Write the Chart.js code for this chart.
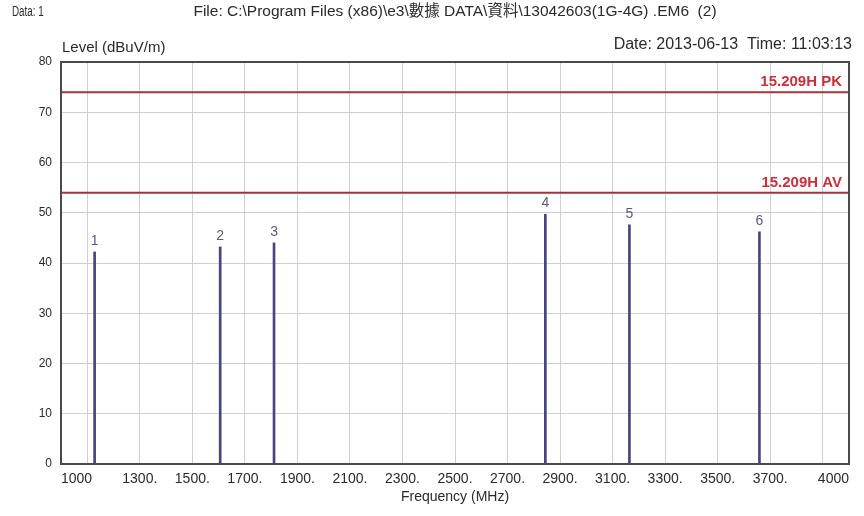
<!DOCTYPE html>
<html>
<head>
<meta charset="utf-8">
<script src="https://cdn.jsdelivr.net/npm/chart.js@4/dist/chart.umd.min.js"></script>
<style>
html,body{margin:0;padding:0;background:#fff;}
#wrap{width:864px;height:516px;position:relative;}
</style>
</head>
<body>
<div id="wrap"><canvas id="c" width="864" height="516"></canvas></div>
<script>
// ---- data ----
const markerFreqs = [1128, 1606, 1811, 2844, 3164, 3659];
const markerLevels = [42.2, 43.2, 44.0, 49.7, 47.6, 46.2];
const markerNames = ['1', '2', '3', '4', '5', '6'];
const limitNames = ['15.209H PK', '15.209H AV'];
const limitLevels = [74, 54];
const xTickValues = [1000, 1100, 1300, 1500, 1700, 1900, 2100, 2300, 2500, 2700, 2900, 3100, 3300, 3500, 3700, 3900, 4000];
const xRange = [1000, 4000];
const yRange = [0, 80];
const headerLeft = 'Data: 1';
const headerFile = 'File: C:\\Program Files (x86)\\e3\\數據 DATA\\資料\\13042603(1G-4G) .EM6  (2)';
const headerDate = 'Date: 2013-06-13  Time: 11:03:13';
const yTitle = 'Level (dBuV/m)';
const xTitle = 'Frequency (MHz)';

const TXT = '#2a2a2a';
const GRID = '#cfcfd6';
const LIMIT = '#a8323a';

const datasets = [{
  type: 'bar',
  data: markerFreqs.map((f, i) => ({x: f, y: markerLevels[i]})),
  backgroundColor: '#45457f',
  barThickness: 2,
  grouped: false,
  order: 2
}];
limitLevels.forEach((v, i) => {
  datasets.push({
    type: 'line',
    data: [{x: xRange[0], y: v}, {x: xRange[1], y: v}],
    borderColor: LIMIT,
    borderWidth: 2,
    pointRadius: 0,
    order: 1
  });
});

const annot = {
  id: 'annot',
  afterDraw(chart) {
    const ctx = chart.ctx;
    const a = chart.chartArea;
    const xs = chart.scales.x, ys = chart.scales.y;
    ctx.save();
    // frame
    ctx.strokeStyle = '#4a4a4a';
    ctx.lineWidth = 2;
    ctx.strokeRect(a.left, a.top, a.right - a.left, a.bottom - a.top);
    // headers
    ctx.fillStyle = TXT;
    ctx.textBaseline = 'middle';
    ctx.save();
    ctx.translate(12, 12);
    ctx.scale(0.7, 1);
    ctx.font = '14px "Liberation Sans", Arial';
    ctx.textAlign = 'left';
    ctx.fillText(headerLeft, 0, 0);
    ctx.restore();
    ctx.font = '15.5px "Liberation Sans", "Noto Sans CJK TC", Arial';
    ctx.textAlign = 'center';
    ctx.fillText(headerFile, 455, 12);
    ctx.textAlign = 'right';
    ctx.font = '16px "Liberation Sans", Arial';
    ctx.fillText(headerDate, 852, 45);
    ctx.textAlign = 'left';
    ctx.font = '15px "Liberation Sans", Arial';
    ctx.fillText(yTitle, 62, 48);
    // limit labels
    ctx.fillStyle = '#c8303c';
    ctx.font = 'bold 15px "Liberation Sans", Arial';
    ctx.textAlign = 'right';
    limitLevels.forEach((v, i) => {
      ctx.fillText(limitNames[i], 842, ys.getPixelForValue(v) - 10);
    });
    // marker labels
    ctx.fillStyle = '#5a5a78';
    ctx.font = '14px "Liberation Sans", Arial';
    ctx.textAlign = 'center';
    ctx.textBaseline = 'bottom';
    markerFreqs.forEach((f, i) => {
      ctx.fillText(markerNames[i], xs.getPixelForValue(f), ys.getPixelForValue(markerLevels[i]) - 4);
    });
    ctx.restore();
  }
};

new Chart(document.getElementById('c'), {
  type: 'bar',
  data: {datasets},
  options: {
    responsive: false,
    animation: false,
    devicePixelRatio: 1,
    layout: {padding: {top: 62, right: 15, left: 0, bottom: 0}},
    plugins: {legend: {display: false}, tooltip: {enabled: false}, title: {display: false}},
    scales: {
      x: {
        type: 'linear',
        offset: false,
        min: xRange[0], max: xRange[1],
        afterBuildTicks: s => { s.ticks = xTickValues.map(v => ({value: v})); },
        afterFit: s => { s.height = 52; },
        ticks: {
          autoSkip: false, maxRotation: 0, minRotation: 0, align: 'inner', padding: 7,
          color: TXT,
          font: {family: '"Liberation Sans", Arial', size: 14},
          callback: v => (v === xRange[0] || v === xRange[1]) ? String(v) : (v === 1100 || v === 3900 ? '' : v + '.')
        },
        grid: {
          offset: false,
          drawTicks: false,
          color: c => (c.tick && (c.tick.value === xRange[0] || c.tick.value === xRange[1])) ? 'rgba(0,0,0,0)' : GRID,
          lineWidth: 1
        },
        border: {display: false},
        title: {display: true, text: xTitle, color: TXT, font: {family: '"Liberation Sans", Arial', size: 14}, padding: {top: 0, bottom: 10}}
      },
      y: {
        min: yRange[0], max: yRange[1],
        afterFit: s => { s.width = 61; },
        ticks: {
          stepSize: 10, padding: 9, color: TXT,
          font: {family: '"Liberation Sans", Arial', size: 12}
        },
        grid: {
          drawTicks: false,
          color: c => (c.tick && (c.tick.value === yRange[0] || c.tick.value === yRange[1])) ? 'rgba(0,0,0,0)' : GRID,
          lineWidth: 1
        },
        border: {display: false}
      }
    }
  },
  plugins: [annot]
});
</script>
</body>
</html>
